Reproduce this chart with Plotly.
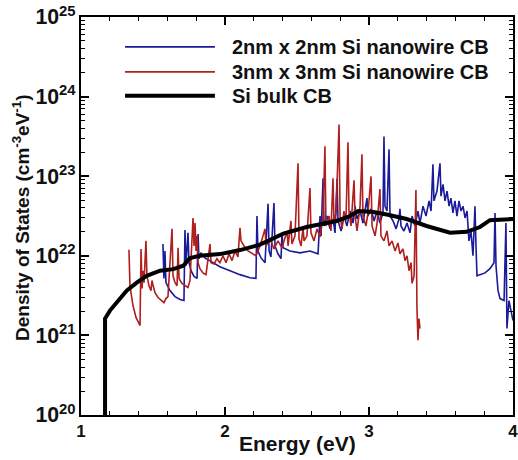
import plotly.graph_objects as go

# ---- 3nm x 3nm Si nanowire CB ----
red_E = [1.333, 1.340, 1.361, 1.382, 1.410, 1.417, 1.424, 1.431, 1.438, 1.444, 1.451, 1.458,
         1.472, 1.486, 1.493, 1.500, 1.514, 1.535, 1.556, 1.576, 1.590, 1.604, 1.632, 1.639,
         1.653, 1.667, 1.674, 1.681, 1.701, 1.722, 1.743, 1.757, 1.771, 1.778, 1.785, 1.792,
         1.799, 1.806, 1.813, 1.826, 1.847, 1.868, 1.896, 1.903, 1.924, 1.944, 1.965, 1.986,
         2.007, 2.028, 2.049, 2.069, 2.090, 2.104, 2.111, 2.132, 2.160, 2.188, 2.215, 2.243,
         2.278, 2.285, 2.313, 2.340, 2.368, 2.396, 2.417, 2.431, 2.438, 2.458, 2.465, 2.486,
         2.507, 2.514, 2.528, 2.542, 2.549, 2.569, 2.590, 2.597, 2.618, 2.639, 2.660, 2.681,
         2.694, 2.701, 2.722, 2.736, 2.750, 2.757, 2.771, 2.792, 2.799, 2.813, 2.826, 2.840,
         2.854, 2.861, 2.875, 2.896, 2.903, 2.917, 2.938, 2.951, 2.958, 2.979, 2.993, 3.014,
         3.021, 3.042, 3.056, 3.076, 3.083, 3.104, 3.125, 3.139, 3.160, 3.181, 3.201, 3.215,
         3.236, 3.250, 3.264, 3.278, 3.292, 3.299, 3.313, 3.326, 3.333, 3.340, 3.347, 3.354]
red_dos = [1.19e22, 4.2e21, 2.37e21, 1.68e21, 1.33e21, 1.22e22, 3.9e21, 6.5e21, 4.6e21, 9.2e21, 1.54e22, 5.6e21,
           4.2e21, 3.65e21, 4.9e21, 4.3e21, 3.45e21, 2.99e21, 2.74e21, 2.58e21, 2.9e21, 3.07e21, 2.18e22, 5.6e21,
           4.6e21, 4.2e21, 1.26e22, 5.2e21, 4.5e21, 4.2e21, 4.0e21, 4.9e21, 1.54e22, 2.99e22, 1.33e22, 2.58e22,
           1.15e22, 1.78e22, 8.2e21, 6.9e21, 6.1e21, 5.8e21, 1.41e22, 8.2e21, 7.9e21, 9.2e21, 8.2e21, 1.0e22,
           8.2e21, 1.06e22, 8.7e21, 1.15e22, 9.7e21, 2.24e22, 1.54e22, 1.33e22, 1.15e22, 1.06e22, 1.0e22, 1.33e22,
           2.18e22, 1.33e22, 1.63e22, 1.22e22, 1.54e22, 1.26e22, 1.63e22, 2.05e22, 1.33e22, 2.74e22, 1.41e22, 1.78e22,
           1.45e23, 1.63e22, 1.33e22, 2.24e22, 1.54e22, 1.78e22, 7.1e22, 1.94e22, 1.54e22, 2.18e22, 1.73e22, 3.16e22,
           2.37e23, 2.37e22, 3.16e22, 2.05e22, 9.4e22, 2.58e22, 3.45e22, 4.47e23, 3.16e22, 2.18e22, 3.65e22, 2.74e22,
           2.66e23, 3.65e22, 2.37e22, 8.9e22, 3.16e22, 2.05e22, 4.2e22, 1.88e23, 3.16e22, 2.37e22, 3.45e22, 1.0e23,
           2.37e22, 1.78e22, 2.58e22, 6.9e22, 1.78e22, 1.54e22, 2.05e22, 1.33e22, 1.54e22, 1.15e22, 1.45e22, 1.06e22,
           1.22e22, 8.7e21, 1.0e22, 6.5e21, 8.2e21, 4.5e21, 5.6e21, 6.7e22, 2.24e21, 8.7e20, 1.63e21, 1.22e21]

# ---- 2nm x 2nm Si nanowire CB ----
blue_E = [1.569, 1.576, 1.583, 1.590, 1.618, 1.653, 1.688, 1.715, 1.722, 1.729, 1.743, 1.750,
          1.764, 1.785, 1.806, 1.813, 1.819, 1.833, 1.861, 1.896, 1.965, 2.035, 2.104, 2.174,
          2.215, 2.222, 2.229, 2.250, 2.278, 2.299, 2.306, 2.319, 2.340, 2.347, 2.368, 2.389,
          2.396, 2.403, 2.451, 2.521, 2.590, 2.646, 2.660, 2.667, 2.681, 2.688, 2.708, 2.729,
          2.750, 2.764, 2.778, 2.785, 2.806, 2.826, 2.847, 2.868, 2.889, 2.903, 2.917, 2.938,
          2.958, 2.986, 2.993, 3.014, 3.035, 3.056, 3.076, 3.097, 3.104, 3.111, 3.125, 3.139,
          3.146, 3.167, 3.188, 3.208, 3.215, 3.222, 3.243, 3.264, 3.285, 3.299, 3.319, 3.340,
          3.354, 3.375, 3.396, 3.417, 3.431, 3.444, 3.451, 3.472, 3.493, 3.500, 3.514, 3.528,
          3.542, 3.556, 3.569, 3.583, 3.597, 3.611, 3.625, 3.639, 3.653, 3.667, 3.681, 3.694,
          3.708, 3.722, 3.736, 3.743, 3.750, 3.771, 3.806, 3.840, 3.868, 3.875, 3.882, 3.896,
          3.910, 3.938, 3.951, 3.958, 3.972, 3.986, 4.000]
blue_dos = [1.41e22, 5.2e21, 1.15e22, 4.6e21, 3.65e21, 3.07e21, 2.82e21, 2.74e21, 2.11e22, 7.5e21, 1.94e22, 8.2e21,
            6.5e21, 5.5e21, 5.2e21, 1.88e22, 9.2e21, 1.09e22, 9.4e21, 8.7e21, 7.3e21, 6.5e21, 5.8e21, 5.3e21,
            5.2e21, 3.16e22, 1.15e22, 9.4e21, 8.2e21, 4.5e22, 1.15e22, 9.7e21, 4.6e22, 1.33e22, 1.06e22, 9.2e21,
            1.94e22, 1.26e22, 1.15e22, 1.09e22, 1.15e22, 1.06e22, 3.16e22, 1.78e22, 9.4e22, 2.37e22, 3.16e22, 2.18e22,
            2.9e22, 1.94e22, 9.2e22, 2.74e22, 2.05e22, 3.16e22, 2.37e22, 3.65e22, 2.58e22, 4.2e22, 2.9e22, 3.65e22,
            2.58e22, 5.3e22, 3.16e22, 3.9e22, 2.74e22, 3.65e22, 2.58e22, 3.45e22, 3.16e23, 4.2e22, 3.65e22, 2.18e23,
            3.16e22, 2.74e22, 2.18e22, 2.9e22, 3.9e22, 2.37e22, 2.05e22, 2.58e22, 1.94e22, 3.16e22, 2.37e22, 3.65e22,
            2.58e22, 4.2e22, 3.16e22, 4.9e22, 3.65e22, 1.41e23, 4.9e22, 6.5e22, 1.45e23, 5.6e22, 7.9e22, 4.9e22,
            6.5e22, 4.2e22, 5.3e22, 3.45e22, 4.9e22, 3.16e22, 4.9e22, 3.65e22, 4.2e22, 2.99e22, 3.65e22, 1.54e22,
            2.05e22, 1.0e22, 4.2e22, 1.33e22, 5.6e21, 5.8e21, 6.1e21, 6.9e21, 8.2e21, 3.45e22, 7.5e21, 3.65e21,
            2.9e21, 2.74e21, 2.58e22, 1.22e21, 2.74e21, 2.05e21, 1.54e21]

# ---- Si bulk CB ----
bulk_E = [1.167, 1.167, 1.201, 1.259, 1.317, 1.387, 1.456, 1.549, 1.641, 1.710, 1.757, 1.826,
          1.965, 2.104, 2.243, 2.405, 2.567, 2.775, 2.868, 2.926, 3.030, 3.123, 3.262, 3.400,
          3.563, 3.678, 3.771, 3.840, 4.000]
bulk_dos = [1.0e19, 1.63e21, 2.05e21, 2.74e21, 3.65e21, 4.6e21, 5.6e21, 6.5e21, 6.8e21, 7.5e21, 9.4e21, 1.0e22,
            1.05e22, 1.18e22, 1.38e22, 1.9e22, 2.3e22, 2.74e22, 3.16e22, 3.65e22, 3.55e22, 3.3e22, 2.9e22, 2.37e22,
            1.95e22, 2.0e22, 2.3e22, 2.8e22, 2.9e22]

names = ["2nm x 2nm Si nanowire CB", "3nm x 3nm Si nanowire CB", "Si bulk CB"]
x_title = "Energy (eV)"
y_title = "Density of States (cm<sup>-3</sup>eV<sup>-1</sup>)"
BLUE = "#1a1a9a"
RED = "#b01e1e"

fig = go.Figure()
fig.add_trace(go.Scatter(x=blue_E, y=blue_dos, mode="lines", name=names[0],
                         line=dict(color=BLUE, width=1.6), showlegend=False))
fig.add_trace(go.Scatter(x=red_E, y=red_dos, mode="lines", name=names[1],
                         line=dict(color=RED, width=1.6), showlegend=False))
fig.add_trace(go.Scatter(x=bulk_E, y=bulk_dos, mode="lines", name=names[2],
                         line=dict(color="black", width=4), showlegend=False))

font_b = dict(family="Liberation Sans, Arial, sans-serif", color="#111111", weight="bold")

# manual legend (long sample lines as in the reference)
leg_y = [0.925, 0.862, 0.802]
leg_col = [BLUE, RED, "black"]
leg_w = [1.8, 1.8, 4]
for yy, c, w, n in zip(leg_y, leg_col, leg_w, names):
    fig.add_shape(type="line", xref="paper", yref="paper", x0=0.102, x1=0.31, y0=yy, y1=yy,
                  line=dict(color=c, width=w))
    fig.add_annotation(xref="paper", yref="paper", x=0.345, y=yy, text=n, showarrow=False,
                       xanchor="left", yanchor="middle", font=dict(size=20, **font_b))

# axis titles
fig.add_annotation(xref="paper", yref="paper", x=0.501, y=-0.0725, text=x_title, showarrow=False,
                   xanchor="center", yanchor="middle", font=dict(size=21, **font_b))
fig.add_annotation(xref="paper", yref="paper", x=-0.139, y=0.495, text=y_title, showarrow=False,
                   textangle=-90, xanchor="center", yanchor="middle", font=dict(size=19, **font_b))

fig.update_layout(
    width=518, height=460,
    margin=dict(l=81, r=5, t=17, b=45),
    paper_bgcolor="white", plot_bgcolor="white",
    showlegend=False,
)
fig.update_xaxes(
    range=[1, 4], dtick=1, tick0=1, showline=True, linecolor="black", linewidth=2, mirror="allticks",
    ticks="inside", ticklen=8, tickwidth=2, tickcolor="black", showgrid=False, zeroline=False,
    minor=dict(dtick=0.2, ticks="inside", ticklen=4, tickwidth=1, tickcolor="black", showgrid=False),
    tickfont=dict(size=17, **font_b), automargin=False, ticklabeloverflow="allow",
)
fig.update_yaxes(
    type="log", range=[20, 25], dtick=1, exponentformat="power", showexponent="all",
    showline=True, linecolor="black", linewidth=2, mirror="allticks",
    ticks="inside", ticklen=8, tickwidth=2, tickcolor="black", showgrid=False, zeroline=False,
    minor=dict(ticks="inside", ticklen=4, tickwidth=1, tickcolor="black", showgrid=False),
    tickfont=dict(size=17, **font_b), automargin=False, ticklabeloverflow="allow",
)

fig.write_html("out.html")
